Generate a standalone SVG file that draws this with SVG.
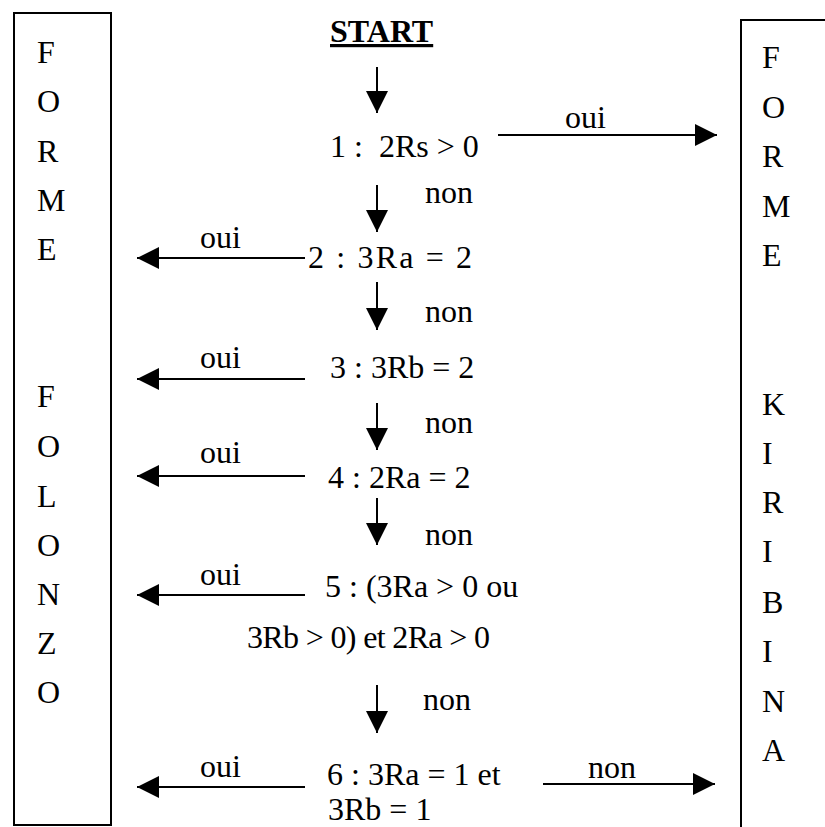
<svg xmlns="http://www.w3.org/2000/svg" width="825" height="827" viewBox="0 0 825 827">
<style>
text{font-family:"Liberation Serif","Times New Roman",serif;font-size:32px;fill:#000}
.box{fill:none;stroke:#000;stroke-width:2}
.c{stroke:#000;stroke-width:2;fill:none}
.b{font-weight:bold;text-decoration:underline}
</style>
<defs>
<marker id="ah" markerUnits="userSpaceOnUse" markerWidth="22" markerHeight="22" viewBox="0 0 20 20" refX="20" refY="10" orient="auto">
<path d="M0,0 L20,10 L0,20 Z" fill="#000"/>
</marker>
</defs>
<rect width="825" height="827" fill="#fff"/>
<g id="folonzo">
<rect class="box" x="14" y="13" width="97" height="812"/>
<text x="37" y="63">F</text>
<text x="37" y="112">O</text>
<text x="37" y="162">R</text>
<text x="37" y="211">M</text>
<text x="37" y="260">E</text>
<text x="37" y="407">F</text>
<text x="37" y="457">O</text>
<text x="37" y="507">L</text>
<text x="37" y="556">O</text>
<text x="37" y="605">N</text>
<text x="37" y="654">Z</text>
<text x="37" y="703">O</text>
</g>
<g id="kiribina">
<rect class="box" x="741" y="20" width="120" height="900"/>
<text x="762" y="68">F</text>
<text x="762" y="118">O</text>
<text x="762" y="167">R</text>
<text x="762" y="217">M</text>
<text x="762" y="266">E</text>
<text x="762" y="415">K</text>
<text x="762" y="464">I</text>
<text x="762" y="513">R</text>
<text x="762" y="562">I</text>
<text x="762" y="613">B</text>
<text x="762" y="662">I</text>
<text x="762" y="712">N</text>
<text x="762" y="761">A</text>
</g>
<g id="start"><text class="b" x="330" y="42">START</text></g>
<g id="q1"><text x="330" y="157" xml:space="preserve">1 :  2Rs &gt; 0</text></g>
<g id="q2"><text x="308" y="268" textLength="164" lengthAdjust="spacing">2 : 3Ra = 2</text></g>
<g id="q3"><text x="330" y="378">3 : 3Rb = 2</text></g>
<g id="q4"><text x="328" y="488">4 : 2Ra = 2</text></g>
<g id="q5"><text x="325" y="597">5 : (3Ra &gt; 0 ou</text><text x="247" y="648" textLength="243" lengthAdjust="spacing">3Rb &gt; 0) et 2Ra &gt; 0</text></g>
<g id="q6"><text x="327" y="785">6 : 3Ra = 1 et</text><text x="328" y="820">3Rb = 1</text></g>
<g id="connectors">
<line class="c" x1="377" y1="67" x2="377" y2="113" marker-end="url(#ah)"/>
<line class="c" x1="377" y1="185" x2="377" y2="232" marker-end="url(#ah)"/>
<line class="c" x1="377" y1="282" x2="377" y2="330" marker-end="url(#ah)"/>
<line class="c" x1="377" y1="403" x2="377" y2="450" marker-end="url(#ah)"/>
<line class="c" x1="377" y1="498" x2="377" y2="545" marker-end="url(#ah)"/>
<line class="c" x1="377" y1="685" x2="377" y2="733" marker-end="url(#ah)"/>
<line class="c" x1="498" y1="135" x2="717" y2="135" marker-end="url(#ah)"/>
<line class="c" x1="305" y1="258" x2="137" y2="258" marker-end="url(#ah)"/>
<line class="c" x1="305" y1="379" x2="137" y2="379" marker-end="url(#ah)"/>
<line class="c" x1="305" y1="476" x2="137" y2="476" marker-end="url(#ah)"/>
<line class="c" x1="305" y1="595" x2="137" y2="595" marker-end="url(#ah)"/>
<line class="c" x1="305" y1="787" x2="137" y2="787" marker-end="url(#ah)"/>
<line class="c" x1="543" y1="784" x2="715" y2="784" marker-end="url(#ah)"/>
<text x="565" y="128">oui</text>
<text x="200" y="248">oui</text>
<text x="200" y="368">oui</text>
<text x="200" y="463">oui</text>
<text x="200" y="585">oui</text>
<text x="200" y="777">oui</text>
<text x="425" y="203">non</text>
<text x="425" y="322">non</text>
<text x="425" y="433">non</text>
<text x="425" y="545">non</text>
<text x="423" y="710">non</text>
<text x="588" y="778">non</text>
</g>
</svg>
